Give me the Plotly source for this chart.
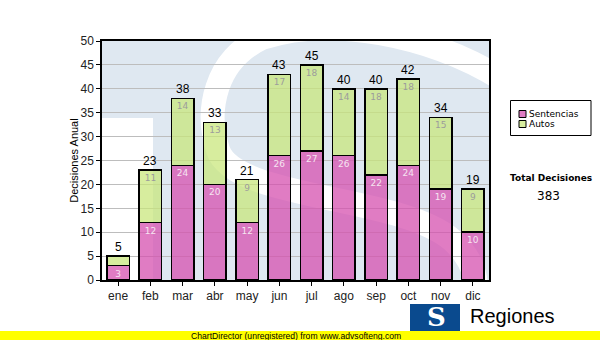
import plotly.graph_objects as go

months = ["ene", "feb", "mar", "abr", "may", "jun", "jul", "ago", "sep", "oct", "nov", "dic"]
sentencias = [3, 12, 24, 20, 12, 26, 27, 26, 22, 24, 19, 10]
autos = [2, 11, 14, 13, 9, 17, 18, 14, 18, 18, 15, 9]
series_names = ["Sentencias", "Autos"]
y_title = "Decisiones Anual"
total_label = "Total Decisiones"
footer_text = "ChartDirector (unregistered) from www.advsofteng.com"
logo_text = "Regiones"

totals = [s + a for s, a in zip(sentencias, autos)]
grand_total = sum(totals)

W, H = 600, 340
L, R, T, B = 102, 489, 41, 280  # plot area in px


def X(px):
    return (px - L) / (R - L)


def Y(py):
    return (B - py) / (B - T)


PINK = "rgba(214,80,175,0.75)"
GREEN = "rgba(200,230,120,0.72)"

fig = go.Figure()
fig.add_trace(go.Bar(
    x=months, y=sentencias, name=series_names[0],
    marker=dict(color=PINK, line=dict(color="black", width=1.5)),
    width=0.7,
    text=[str(v) for v in sentencias], textposition="inside",
    insidetextanchor="end", constraintext="none", textangle=0,
    textfont=dict(family="DejaVu Sans", size=9, color="#f6e4f1"),
    showlegend=False,
))
fig.add_trace(go.Bar(
    x=months, y=autos, name=series_names[1],
    marker=dict(color=GREEN, line=dict(color="black", width=1.5)),
    width=0.7,
    text=[str(v) if v >= 5 else "" for v in autos], textposition="inside",
    insidetextanchor="end", constraintext="none", textangle=0,
    textfont=dict(family="DejaVu Sans", size=9, color="#9c9c9c"),
    showlegend=False,
))

annotations = []
for m, t in zip(months, totals):
    annotations.append(dict(x=m, y=t, xref="x", yref="y", text=str(t), showarrow=False,
                            yanchor="bottom", yshift=0,
                            font=dict(family="Liberation Sans", size=12, color="black")))

shapes = []
# watermark
shapes.append(dict(type="rect", xref="paper", yref="paper", x0=X(L), x1=X(153), y0=Y(118), y1=Y(B),
                   fillcolor="white", line=dict(width=0), layer="below"))


def path(points):
    s = "M %f,%f" % (X(points[0][0]), Y(points[0][1]))
    rest = points[1:]
    for i in range(0, len(rest), 3):
        c1, c2, p = rest[i], rest[i + 1], rest[i + 2]
        s += " C %f,%f %f,%f %f,%f" % (X(c1[0]), Y(c1[1]), X(c2[0]), Y(c2[1]), X(p[0]), Y(p[1]))
    return s


wm = [(500, 78), (430, 35), (330, 15), (262, 38),
      (215, 60), (205, 110), (218, 150),
      (235, 200), (400, 195), (452, 240),
      (480, 265), (480, 290), (470, 330)]
shapes.append(dict(type="path", xref="paper", yref="paper", path=path(wm),
                   line=dict(color="white", width=24), layer="below"))

# legend box
shapes.append(dict(type="rect", xref="paper", yref="paper", x0=X(510.5), x1=X(591), y0=Y(100.5), y1=Y(135.5),
                   fillcolor="white", line=dict(color="black", width=1)))
leg_cols = [PINK, GREEN]
leg_y = [114, 124]
for i, name in enumerate(series_names):
    shapes.append(dict(type="rect", xref="paper", yref="paper", x0=X(519), x1=X(526),
                       y0=Y(leg_y[i] - 3.5), y1=Y(leg_y[i] + 3.5),
                       fillcolor=leg_cols[i], line=dict(color="black", width=1)))
    annotations.append(dict(x=X(527), y=Y(leg_y[i]), xref="paper", yref="paper", text=name,
                            showarrow=False, xanchor="left", yanchor="middle",
                            font=dict(family="DejaVu Sans", size=9, color="black")))

annotations.append(dict(x=X(551), y=Y(178), xref="paper", yref="paper", text="<b>%s</b>" % total_label,
                        showarrow=False, xanchor="center", yanchor="middle",
                        font=dict(family="DejaVu Sans", size=9, color="black")))
annotations.append(dict(x=X(548), y=Y(196), xref="paper", yref="paper", text=str(grand_total),
                        showarrow=False, xanchor="center", yanchor="middle",
                        font=dict(family="DejaVu Sans", size=12, color="black")))

# logo
shapes.append(dict(type="rect", xref="paper", yref="paper", x0=X(410), x1=X(460), y0=Y(304), y1=Y(336),
                   fillcolor="#0a4a8e", line=dict(width=0)))
annotations.append(dict(x=X(436), y=Y(317), xref="paper", yref="paper", text="<b>S</b>",
                        showarrow=False, xanchor="center", yanchor="middle",
                        font=dict(family="DejaVu Serif", size=26, color="white")))
annotations.append(dict(x=X(468), y=Y(316), xref="paper", yref="paper", text=logo_text,
                        showarrow=False, xanchor="left", yanchor="middle",
                        font=dict(family="Liberation Sans", size=20, color="black")))

# footer band
shapes.append(dict(type="rect", xref="paper", yref="paper", x0=X(0), x1=X(W), y0=Y(331), y1=Y(H + 2),
                   fillcolor="#ffff00", line=dict(width=0)))
annotations.append(dict(x=X(295.5), y=Y(335.5), xref="paper", yref="paper", text=footer_text,
                        showarrow=False, xanchor="center", yanchor="middle",
                        font=dict(family="Liberation Sans", size=8.6, color="black")))

fig.update_layout(
    width=W, height=H,
    margin=dict(l=L, r=W - R, t=T, b=H - B, pad=0),
    barmode="stack", bargap=0.3,
    paper_bgcolor="white", plot_bgcolor="#dfe8f1",
    shapes=shapes, annotations=annotations,
    showlegend=False,
    xaxis=dict(type="category", categoryorder="array", categoryarray=months,
               range=[-0.5, 11.5], showline=True, linecolor="black", linewidth=1.5, mirror=True,
               ticks="outside", ticklen=4, tickcolor="black", showgrid=False,
               tickfont=dict(family="Liberation Sans", size=12, color="#222")),
    yaxis=dict(range=[0, 50], dtick=5, showline=True, linecolor="black", linewidth=1.5, mirror=True,
               ticks="outside", ticklen=4, tickcolor="black", showgrid=True, gridcolor="#bdbdbd",
               gridwidth=1, zeroline=False,
               tickfont=dict(family="Liberation Sans", size=12, color="#222"),
               title=dict(text=y_title, standoff=0,
                          font=dict(family="Liberation Sans", size=11, color="black"))),
)

fig.write_html("out.html")
